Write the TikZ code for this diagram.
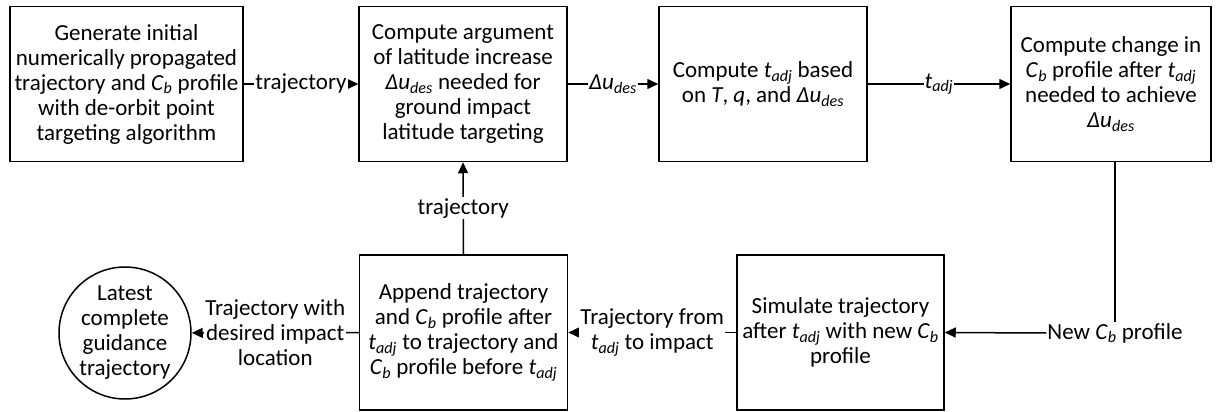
\documentclass[tikz,border=0pt]{standalone}
\usepackage{fontspec}
\setmainfont{Carlito}
\usetikzlibrary{arrows.meta}
\newcommand{\Cb}{\textit{C}\textsubscript{\textit{b}}}
\newcommand{\tadj}{\textit{t}\textsubscript{\textit{adj}}}
\newcommand{\dudes}{\textit{Δu}\textsubscript{\textit{des}}}
\begin{document}
\begin{tikzpicture}[x=1pt,y=-1pt,
  font=\fontsize{23}{25}\selectfont,
  box/.style={draw,line width=1.5pt,rectangle,minimum height=155pt,align=center,inner sep=0pt},
  circ/.style={draw,line width=1.5pt,circle,minimum size=132pt,align=center,inner sep=0pt},
  lab/.style={fill=white,inner sep=1pt,align=center},
  conn/.style={line width=1.5pt,-{Triangle[length=11pt,width=10pt]}},
  plain/.style={line width=1.5pt}]
\useasboundingbox (0,0) rectangle (1216,412);
\node[box,minimum width=233pt] (b1) at (126.5,84) {Generate initial\\numerically propagated\\trajectory and \Cb{} profile\\with de-orbit point\\targeting algorithm};
\node[box,minimum width=208pt] (b2) at (463,84) {Compute argument\\of latitude increase\\\dudes{} needed for\\ground impact\\latitude targeting};
\node[box,minimum width=208pt] (b3) at (763,84) {Compute \tadj{} based\\on \textit{T}, \textit{q}, and \dudes};
\node[box,minimum width=200pt] (b4) at (1111,84) {Compute change in\\\Cb{} profile after \tadj\\needed to achieve\\\dudes};
\node[box,minimum width=208pt] (ap) at (463.5,332.5) {Append trajectory\\and \Cb{} profile after\\\tadj{} to trajectory and\\\Cb{} profile before \tadj};
\node[box,minimum width=207pt] (si) at (840.5,332.5) {Simulate trajectory\\after \tadj{} with new \Cb\\profile};
\node[circ] (ci) at (125,333) {Latest\\complete\\guidance\\trajectory};
\node[lab] (ncb) at (1115,333) {New \Cb{} profile};

\draw[conn] (b1) -- node[lab] {trajectory} (b2);
\draw[conn] (b2) -- node[lab] {\dudes} (b3);
\draw[conn] (b3) -- node[lab] {\tadj} (b4);
\draw[plain] (b4.south -| ncb.north) -- (ncb.north);
\draw[conn] (ncb.west) -- (si.east);
\draw[conn] (si) -- node[lab] {Trajectory from\\\tadj{} to impact} (ap);
\draw[conn] (ap) -- node[lab] {Trajectory with\\desired impact\\location} (ci);
\draw[conn] (ap.north) -- node[lab] {trajectory} (b2.south);
\end{tikzpicture}
\end{document}
